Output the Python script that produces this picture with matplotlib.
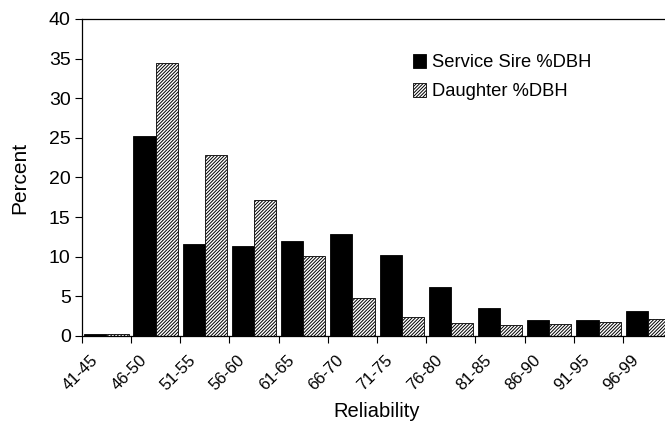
import numpy as np
import matplotlib.pyplot as plt
import matplotlib.transforms as mtransforms

plt.rcParams['font.family'] = ['Liberation Sans', 'DejaVu Sans']
plt.rcParams['hatch.linewidth'] = 0.7

categories = ['41-45', '46-50', '51-55', '56-60', '61-65', '66-70',
              '71-75', '76-80', '81-85', '86-90', '91-95', '96-99']
sire = [0.25, 25.2, 11.65, 11.4, 12.0, 12.9, 10.2, 6.2, 3.5, 2.0, 2.05, 3.2]
daughter = [0.2, 34.5, 22.8, 17.2, 10.1, 4.75, 2.35, 1.6, 1.35, 1.45, 1.7, 2.2]

fig = plt.figure(figsize=(6.65, 4.21), dpi=100)
ax = fig.add_axes([0.123, 0.202, 0.888, 0.753])

x = np.arange(len(categories))
w = 0.45
ax.bar(x - w / 2, sire, w, color='black', edgecolor='black', linewidth=0.6,
       label='Service Sire %DBH')
ax.bar(x + w / 2, daughter, w, color='white', edgecolor='black', linewidth=0.6,
       hatch='/' * 10, label='Daughter %DBH')

ax.set_xlim(-0.5, len(categories) - 0.5)
ax.set_ylim(0, 40)
ax.set_yticks(range(0, 41, 5))
ax.tick_params(axis='y', labelsize=14, length=5, direction='out', width=0.8, pad=3)

# category labels at centers, tick marks at boundaries
ax.set_xticks(x)
ax.set_xticklabels(categories, rotation=45, ha='right', va='top', fontsize=12)
ax.tick_params(axis='x', which='major', length=0, pad=12)
ax.set_xticks(np.arange(-0.5, len(categories)), minor=True)
ax.tick_params(axis='x', which='minor', length=5, width=0.8)
offset = mtransforms.ScaledTranslation(-6 / 100, 0, fig.dpi_scale_trans)
for lbl in ax.get_xticklabels():
    lbl.set_transform(lbl.get_transform() + offset)

ax.spines['right'].set_visible(False)
for s in ['left', 'bottom', 'top']:
    ax.spines[s].set_linewidth(0.9)

ax.set_xlabel('Reliability', fontsize=14.5, labelpad=6)
ax.set_ylabel('Percent', fontsize=15, labelpad=14)

ax.legend(loc='upper left', bbox_to_anchor=(0.548, 0.912), frameon=False,
          fontsize=13.2, handlelength=0.75, handleheight=0.75, handletextpad=0.3,
          labelspacing=0.65, borderaxespad=0)

fig.savefig('out.png', dpi=100)
